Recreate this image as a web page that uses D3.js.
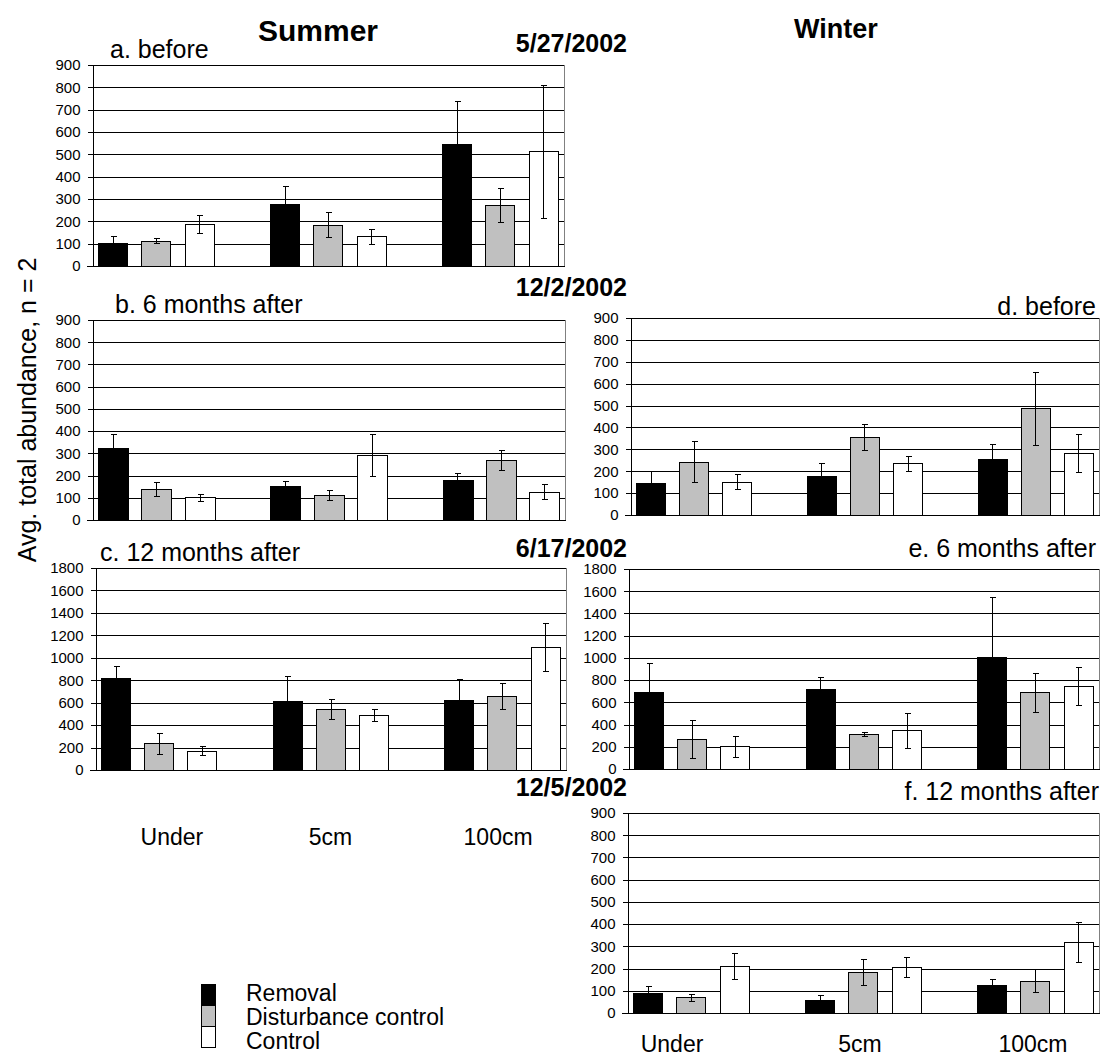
<!DOCTYPE html>
<html>
<head>
<meta charset="utf-8">
<title>abundance</title>
<script src="https://cdn.jsdelivr.net/npm/d3@7"></script>
<style>
	body {margin:0; padding:0; background:#fff;}
	svg text {font-family:"Liberation Sans", Arial, sans-serif; fill:#000;}
</style>
</head>
<body>
<svg id="chart" width="1104" height="1059"></svg>
<script>

var categories = ["Under", "5cm", "100cm"];
var seriesNames = ["Removal", "Disturbance control", "Control"];
var seriesFill = ["#000000", "#c0c0c0", "#ffffff"];

// one row per series: removal, disturbance control, control
var meanA = [[104, 279, 546], [113, 184, 273], [187, 133, 513]];
var errA  = [[29, 78, 192], [11, 56, 77], [40, 34, 297]];
var meanB = [[326, 151, 179], [139, 114, 271], [102, 293, 127]];
var errB  = [[61, 24, 33], [33, 23, 45], [16, 96, 34]];
var meanC = [[824, 619, 628], [238, 542, 658], [173, 491, 1095]];
var errC  = [[99, 223, 187], [92, 87, 115], [40, 57, 213]];
var meanD = [[148, 177, 258], [244, 358, 488], [152, 236, 282]];
var errD  = [[53, 62, 65], [95, 59, 166], [35, 33, 87]];
var meanE = [[689, 722, 1012], [272, 314, 689], [204, 347, 746]];
var errE  = [[266, 107, 539], [172, 16, 173], [97, 154, 169]];
var meanF = [[92, 60, 125], [70, 186, 146], [211, 207, 318]];
var errF  = [[29, 23, 28], [16, 58, 52], [58, 45, 90]];

var panels = [
	{mean:meanA, err:errA, max:900,  step:100, x0:92,  x1:564,  y0:65,  y1:266,  label:"a. before",          lx:110,  ly:58,  anchor:"start"},
	{mean:meanB, err:errB, max:900,  step:100, x0:92,  x1:565,  y0:320, y1:520,  label:"b. 6 months after",  lx:115,  ly:313, anchor:"start"},
	{mean:meanC, err:errC, max:1800, step:200, x0:95,  x1:566,  y0:568, y1:770,  label:"c. 12 months after", lx:100,  ly:561, anchor:"start"},
	{mean:meanD, err:errD, max:900,  step:100, x0:630, x1:1099, y0:318, y1:515,  label:"d. before",          lx:1096, ly:315, anchor:"end"},
	{mean:meanE, err:errE, max:1800, step:200, x0:628, x1:1099, y0:569, y1:769,  label:"e. 6 months after",  lx:1096, ly:557, anchor:"end"},
	{mean:meanF, err:errF, max:900,  step:100, x0:627, x1:1099, y0:813, y1:1013, label:"f. 12 months after", lx:1099, ly:800, anchor:"end"}
];

var svg = d3.select('#chart');

panels.forEach(function(p) {
	var g = svg.append('g');
	var x = d3.scaleBand().domain(categories).range([p.x0, p.x1]).paddingInner(0.325).paddingOuter(0.035);
	var xs = d3.scaleBand().domain(d3.range(3)).range([0, x.bandwidth()]).paddingInner(0.32);
	var y = d3.scaleLinear().domain([0, p.max]).range([p.y1, p.y0]);
	var tv = d3.range(0, p.max + 1, p.step);

	// gridlines
	g.selectAll('line.grid')
		.data(tv.slice(1))
		.enter()
		.append('line')
		.attr('x1', p.x0).attr('x2', p.x1)
		.attr('y1', function(d) {return Math.round(y(d)) + 0.5})
		.attr('y2', function(d) {return Math.round(y(d)) + 0.5})
		.attr('stroke', '#000')
		.attr('shape-rendering', 'crispEdges');

	// right border
	g.append('line')
		.attr('x1', p.x1 + 0.5).attr('x2', p.x1 + 0.5)
		.attr('y1', p.y0).attr('y2', p.y1)
		.attr('stroke', '#808080')
		.attr('shape-rendering', 'crispEdges');

	var cells = [];
	p.mean.forEach(function(row, s) {
		row.forEach(function(v, c) {
			cells.push({s:s, c:categories[c], v:v, e:p.err[s][c]});
		});
	});

	function bx(d) {return Math.round(x(d.c) + xs(d.s)) + 0.5}

	g.selectAll('rect.bar')
		.data(cells)
		.enter()
		.append('rect')
		.attr('x', bx)
		.attr('y', function(d) {return Math.round(y(d.v)) + 0.5})
		.attr('width', Math.round(xs.bandwidth()))
		.attr('height', function(d) {return Math.round(y(0)) - Math.round(y(d.v))})
		.attr('fill', function(d) {return seriesFill[d.s]})
		.attr('stroke', '#000')
		.attr('shape-rendering', 'crispEdges');

	// error bars
	var eb = g.selectAll('g.err')
		.data(cells)
		.enter()
		.append('g')
		.attr('stroke', '#000')
		.attr('shape-rendering', 'crispEdges');
	function cx(d) {return Math.round(x(d.c) + xs(d.s) + xs.bandwidth() / 2) + 0.5}
	eb.append('line')
		.attr('x1', cx).attr('x2', cx)
		.attr('y1', function(d) {return y(d.v + d.e)})
		.attr('y2', function(d) {return y(Math.max(0, d.v - d.e))});
	eb.append('line')
		.attr('x1', function(d) {return cx(d) - 3}).attr('x2', function(d) {return cx(d) + 3})
		.attr('y1', function(d) {return Math.round(y(d.v + d.e)) + 0.5})
		.attr('y2', function(d) {return Math.round(y(d.v + d.e)) + 0.5});
	eb.filter(function(d) {return d.s > 0})
		.append('line')
		.attr('x1', function(d) {return cx(d) - 3}).attr('x2', function(d) {return cx(d) + 3})
		.attr('y1', function(d) {return Math.round(y(d.v - d.e)) + 0.5})
		.attr('y2', function(d) {return Math.round(y(d.v - d.e)) + 0.5});

	// y axis
	var ax = g.append('g')
		.attr('transform', 'translate(' + (p.x0 + 0.5) + ',0)')
		.call(d3.axisLeft(y).tickValues(tv).tickFormat(d3.format('d')).tickSize(5).tickSizeOuter(0).tickPadding(7));
	ax.selectAll('text').style('font-size', '15px').attr('font-family', null);
	ax.selectAll('line, path').attr('stroke', '#000').attr('shape-rendering', 'crispEdges');

	// bottom line
	g.append('line')
		.attr('x1', p.x0 - 5).attr('x2', p.x1 + 1)
		.attr('y1', Math.round(y(0)) + 0.5).attr('y2', Math.round(y(0)) + 0.5)
		.attr('stroke', '#000')
		.attr('shape-rendering', 'crispEdges');

	g.append('text')
		.attr('x', p.lx).attr('y', p.ly)
		.attr('text-anchor', p.anchor)
		.style('font-size', '25px')
		.text(p.label);

	p.xScale = x;
});

// titles and dates
var titles = [
	{t:"Summer", x:318, y:41, size:30},
	{t:"Winter", x:836, y:38, size:27}
];
svg.selectAll('text.title')
	.data(titles)
	.enter()
	.append('text')
	.attr('x', function(d) {return d.x})
	.attr('y', function(d) {return d.y})
	.attr('text-anchor', 'middle')
	.style('font-weight', 'bold')
	.style('font-size', function(d) {return d.size + 'px'})
	.text(function(d) {return d.t});

var dates = ["5/27/2002", "12/2/2002", "6/17/2002", "12/5/2002"];
var dateY = [52, 296, 557, 796];
svg.selectAll('text.date')
	.data(dates)
	.enter()
	.append('text')
	.attr('x', 627)
	.attr('y', function(d, i) {return dateY[i]})
	.attr('text-anchor', 'end')
	.style('font-weight', 'bold')
	.style('font-size', '25px')
	.text(function(d) {return d});

// category labels under c and f (separate text boxes, nudged as in the original)
[{p:panels[2], y:845, dx:[13, 0, -4]}, {p:panels[5], y:1052, dx:[-19, -3, -2]}].forEach(function(o) {
	svg.selectAll(null)
		.data(categories)
		.enter()
		.append('text')
		.attr('x', function(d, i) {return o.p.xScale(d) + o.p.xScale.bandwidth() / 2 + o.dx[i]})
		.attr('y', o.y)
		.attr('text-anchor', 'middle')
		.style('font-size', '23px')
		.text(function(d) {return d});
});

// y axis title
svg.append('text')
	.attr('transform', 'translate(36,410) rotate(-90)')
	.attr('text-anchor', 'middle')
	.style('font-size', '25px')
	.text("Avg. total abundance, n = 2");

// legend
var lg = svg.append('g').attr('transform', 'translate(201,984)');
lg.selectAll('rect')
	.data(seriesNames)
	.enter()
	.append('rect')
	.attr('x', 0.5)
	.attr('y', function(d, i) {return i * 21 + 0.5})
	.attr('width', 14)
	.attr('height', 21)
	.attr('fill', function(d, i) {return seriesFill[i]})
	.attr('stroke', '#000')
	.attr('shape-rendering', 'crispEdges');
lg.selectAll('text')
	.data(seriesNames)
	.enter()
	.append('text')
	.attr('x', 45)
	.attr('y', function(d, i) {return 17 + i * 24})
	.style('font-size', '23px')
	.text(function(d) {return d});

</script>
</body>
</html>
